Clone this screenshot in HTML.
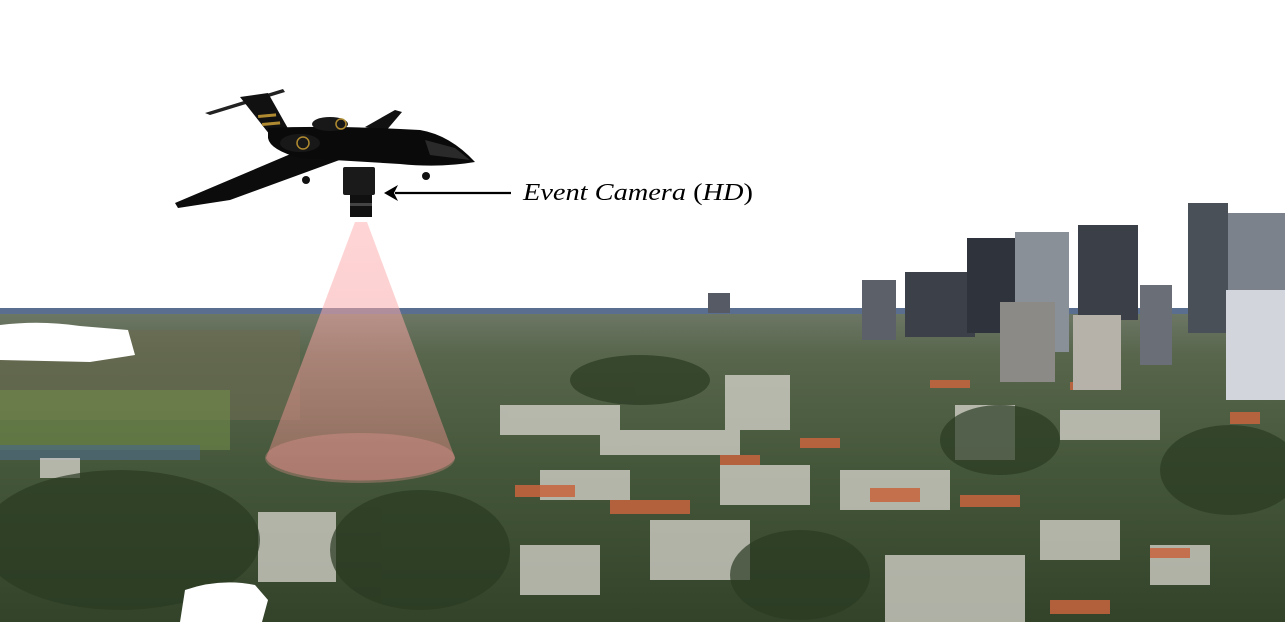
<!DOCTYPE html>
<html><head><meta charset="utf-8"><style>
html,body{margin:0;padding:0;background:#fff;width:1285px;height:622px;overflow:hidden}
svg{display:block}
</style></head><body>
<svg width="1285" height="622" viewBox="0 0 1285 622">
<defs>
<linearGradient id="ground" x1="0" y1="0" x2="0" y2="1">
<stop offset="0" stop-color="#6f7868"/><stop offset="0.15" stop-color="#58664c"/><stop offset="0.5" stop-color="#45573a"/><stop offset="1" stop-color="#33432a"/>
</linearGradient>
<linearGradient id="cone" x1="0" y1="0" x2="0" y2="1">
<stop offset="0" stop-color="#ffb8b8" stop-opacity="0.85"/><stop offset="1" stop-color="#f08a8a" stop-opacity="0.6"/>
</linearGradient>
</defs>
<g>
<rect x="0" y="308" width="1285" height="314" fill="url(#ground)"/>
<rect x="0" y="308" width="1285" height="6" fill="#5a6f8f"/>
<rect x="0" y="330" width="300" height="90" fill="#6a6a50" opacity="0.6"/>
<rect x="0" y="390" width="230" height="60" fill="#6f8a4a" opacity="0.6"/>
<rect x="0" y="445" width="200" height="15" fill="#4d6a80" opacity="0.7"/>
<g fill="#d9d6cf" opacity="0.75">
<rect x="500" y="405" width="120" height="30"/><rect x="600" y="430" width="140" height="25"/><rect x="725" y="375" width="65" height="55"/>
<rect x="540" y="470" width="90" height="30"/><rect x="650" y="520" width="100" height="60"/><rect x="885" y="555" width="140" height="67"/>
<rect x="258" y="512" width="78" height="70"/><rect x="955" y="405" width="60" height="55"/><rect x="1060" y="410" width="100" height="30"/>
<rect x="840" y="470" width="110" height="40"/><rect x="1040" y="520" width="80" height="40"/><rect x="1150" y="545" width="60" height="40"/>
<rect x="40" y="458" width="40" height="20"/><rect x="520" y="545" width="80" height="50"/><rect x="720" y="465" width="90" height="40"/>
</g>
<g fill="#c8643e" opacity="0.85">
<rect x="515" y="485" width="60" height="12"/><rect x="610" y="500" width="80" height="14"/><rect x="870" y="488" width="50" height="14"/>
<rect x="960" y="495" width="60" height="12"/><rect x="800" y="438" width="40" height="10"/><rect x="1070" y="382" width="35" height="8"/>
<rect x="1230" y="412" width="30" height="12"/><rect x="930" y="380" width="40" height="8"/><rect x="1150" y="548" width="40" height="10"/>
<rect x="1050" y="600" width="60" height="14"/><rect x="720" y="455" width="40" height="10"/>
</g>
<g fill="#2a3a22" opacity="0.7">
<ellipse cx="120" cy="540" rx="140" ry="70"/><ellipse cx="420" cy="550" rx="90" ry="60"/><ellipse cx="800" cy="575" rx="70" ry="45"/>
<ellipse cx="1000" cy="440" rx="60" ry="35"/><ellipse cx="1230" cy="470" rx="70" ry="45"/><ellipse cx="640" cy="380" rx="70" ry="25"/>
</g>
<path d="M0 325 Q40 320 80 326 L128 330 L135 355 L90 362 L0 360 Z" fill="#fff"/>
<path d="M185 590 Q220 578 255 585 L268 600 L262 622 L180 622 Z" fill="#fff"/>
</g>
<g>
<rect x="862" y="280" width="34" height="60" fill="#5c6068"/>
<rect x="905" y="272" width="70" height="65" fill="#3c4048"/>
<rect x="967" y="238" width="48" height="95" fill="#2f343c"/>
<rect x="1015" y="232" width="54" height="120" fill="#8a9098"/>
<rect x="1078" y="225" width="60" height="95" fill="#3a3f48"/>
<rect x="1140" y="285" width="32" height="80" fill="#6a6e76"/>
<rect x="1188" y="203" width="40" height="130" fill="#4a5058"/>
<rect x="1228" y="213" width="57" height="85" fill="#7c828c"/>
<rect x="1226" y="290" width="59" height="110" fill="#d2d6dc"/>
<rect x="1073" y="315" width="48" height="75" fill="#b6b2aa"/>
<rect x="1000" y="302" width="55" height="80" fill="#8c8a86"/>
<rect x="708" y="293" width="22" height="20" fill="#555a64"/>
</g>
<g>
<path d="M355 222 L367 222 L455 458 A95 25 0 0 1 266 458 Z" fill="url(#cone)" opacity="0.7"/>
<ellipse cx="360" cy="458" rx="95" ry="25" fill="#f59a9a" opacity="0.3"/>
</g>
<g>
<path d="M205 113 L283 89 L285 92 L210 115 Z" fill="#222"/>
<path d="M240 97 L268 93 L290 132 L270 135 Z" fill="#111"/>
<rect x="258" y="115" width="18" height="3" fill="#b08a30" transform="rotate(-5 258 115)"/>
<rect x="262" y="123" width="18" height="3" fill="#b08a30" transform="rotate(-5 262 123)"/>
<path d="M365 127 L395 110 L402 112 L385 132 Z" fill="#111"/>
<path d="M300 150 L345 158 L230 200 L178 208 L175 203 Z" fill="#0c0c0c"/>
<path d="M268 128 Q330 125 420 130 Q450 135 475 162 Q440 168 400 164 L300 158 Q270 150 268 138 Z" fill="#0a0a0a"/>
<ellipse cx="300" cy="143" rx="20" ry="9" fill="#181818"/>
<circle cx="303" cy="143" r="6" fill="none" stroke="#b08a30" stroke-width="1.5"/>
<ellipse cx="330" cy="124" rx="18" ry="7" fill="#181818"/>
<circle cx="341" cy="124" r="5" fill="none" stroke="#b08a30" stroke-width="1.5"/>
<path d="M425 140 L455 148 L470 160 L430 155 Z" fill="#2a2a2a"/>
<circle cx="306" cy="180" r="4" fill="#111"/>
<circle cx="426" cy="176" r="4" fill="#111"/>
</g>
<g>
<rect x="343" y="167" width="32" height="28" rx="2" fill="#1a1a1a"/>
<rect x="350" y="195" width="22" height="22" fill="#101010"/>
<rect x="350" y="203" width="22" height="3" fill="#444"/>
</g>
<g>
<line x1="395" y1="193" x2="511" y2="193" stroke="#000" stroke-width="2.2"/>
<path d="M384 193 L398 185 L394 193 L398 201 Z" fill="#000"/>
</g>
<text x="523" y="200" font-family="'Liberation Serif', serif" font-style="italic" font-size="24" fill="#000" textLength="230" lengthAdjust="spacingAndGlyphs">Event Camera <tspan font-style="normal">(</tspan>HD<tspan font-style="normal">)</tspan></text>
</svg>
</body></html>
